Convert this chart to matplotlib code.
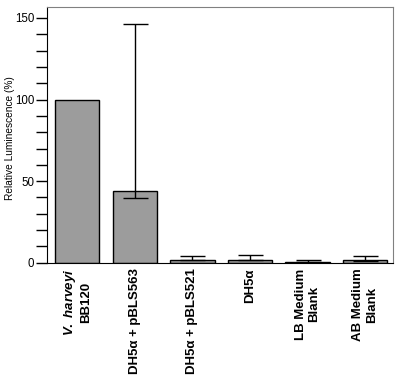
import matplotlib.pyplot as plt

plt.rcParams['font.family'] = ['Liberation Sans', 'DejaVu Sans']
plt.rcParams['mathtext.fontset'] = 'custom'
plt.rcParams['mathtext.it'] = 'Liberation Sans:bold:italic'
plt.rcParams['mathtext.rm'] = 'Liberation Sans:bold'

labels = [r'$\it{V.\ harveyi}$' + '\nBB120', 'DH5α + pBLS563', 'DH5α + pBLS521',
          'DH5α', 'LB Medium\nBlank', 'AB Medium\nBlank']
values = [100, 44, 2, 2, 0.8, 1.5]
err_low = [0, 4.5, 0.5, 0.5, 0.3, 0.5]
err_high = [0, 102.5, 2, 3, 0.8, 2.5]

fig = plt.figure(figsize=(4, 3.82), dpi=100)
ax = fig.add_axes([0.117, 0.312, 0.865, 0.669])

x = list(range(len(values)))
ax.bar(x, values, width=0.77, color='#9c9c9c', edgecolor='black', linewidth=1.0)
ax.errorbar(x[1:], values[1:], yerr=[err_low[1:], err_high[1:]], fmt='none',
            ecolor='black', elinewidth=1.0, capsize=9, capthick=1.0)

ax.set_xlim(-0.53, 5.48)
ax.set_ylim(0, 156.5)
ax.set_yticks([0, 50, 100, 150])
ax.set_yticks(range(0, 151, 10), minor=True)
ax.tick_params(axis='y', which='both', direction='out', length=8, width=1,
               labelsize=8.3, pad=1)
ax.set_ylabel('Relative Luminescence (%)', fontsize=7.3)
ax.yaxis.set_label_coords(-0.093, 0.488)

ax.set_xticks(x)
ax.set_xticklabels(labels, rotation=90, fontsize=9.5, fontweight='bold',
                   multialignment='center', va='top', ha='center')
ax.tick_params(axis='x', length=0, pad=4)

for s in ['top', 'right']:
    ax.spines[s].set_color('#808080')
for s in ['left', 'bottom']:
    ax.spines[s].set_color('black')

fig.savefig('out.png', dpi=100)
